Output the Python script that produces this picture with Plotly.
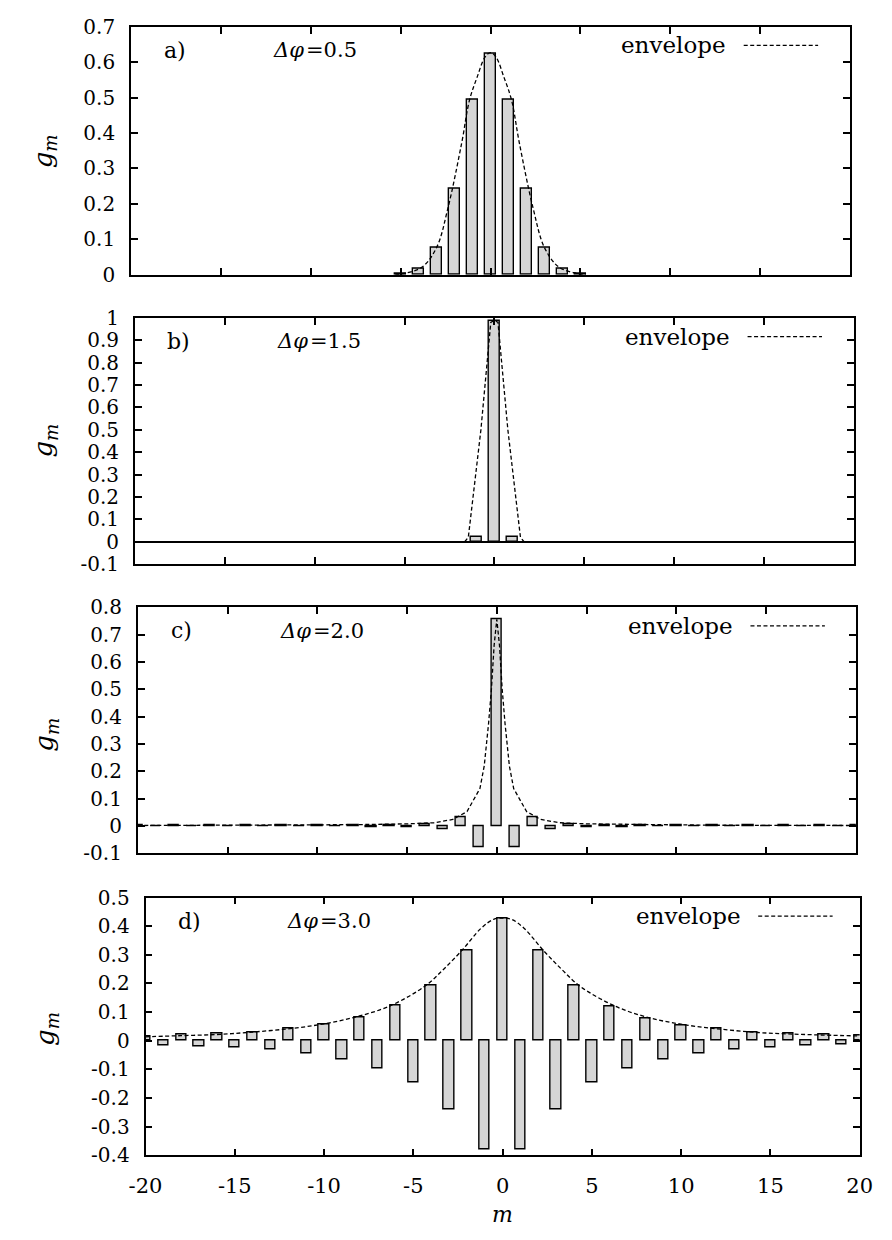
import plotly.graph_objects as go

# ---------------- data ----------------
m_a = [-5, -4, -3, -2, -1, 0, 1, 2, 3, 4, 5]
g_a = [0.003, 0.017, 0.076, 0.242, 0.495, 0.625, 0.495, 0.242, 0.076, 0.017, 0.003]
env_a_m = [-5.3, -4.8, -3.8, -3.0, -2.37, -1.6, -1.17, -0.75, -0.3, 0, 0.3, 0.75, 1.17, 1.6, 2.37, 3.0, 3.8, 4.8, 5.3]
env_a_g = [0.0, 0.004, 0.022, 0.077, 0.188, 0.373, 0.493, 0.557, 0.615, 0.627, 0.615, 0.557, 0.493, 0.373, 0.188, 0.077, 0.022, 0.004, 0.0]

m_b = [-1, 0, 1]
g_b = [0.022, 0.985, 0.022]
env_b_m = [-1.65, -1.45, -1.1, -0.75, -0.2, 0, 0.2, 0.75, 1.1, 1.45, 1.65]
env_b_g = [0.0, 0.02, 0.26, 0.5, 0.98, 0.99, 0.98, 0.5, 0.26, 0.02, 0.0]

m_c = list(range(-20, 21))
g_c = [0.002, -0.002, 0.002, -0.002, 0.002, -0.002, 0.002, -0.002, 0.002, -0.002,
       0.002, -0.002, 0.003, -0.003, 0.004, -0.004, 0.006, -0.010, 0.032, -0.077,
       0.756,
       -0.077, 0.032, -0.010, 0.006, -0.004, 0.004, -0.003, 0.003, -0.002, 0.002,
       -0.002, 0.002, -0.002, 0.002, -0.002, 0.002, -0.002, 0.002, -0.002, 0.002]
env_c_m = [-20, -12, -8, -5, -3.5, -2.45, -1.66, -0.94, -0.7, -0.46, -0.3, -0.15, 0,
           0.15, 0.3, 0.46, 0.7, 0.94, 1.66, 2.45, 3.5, 5, 8, 12, 20]
env_c_g = [0.002, 0.003, 0.005, 0.008, 0.012, 0.024, 0.053, 0.137, 0.22, 0.374, 0.5, 0.66, 0.756,
           0.66, 0.5, 0.374, 0.22, 0.137, 0.053, 0.024, 0.012, 0.008, 0.005, 0.003, 0.002]

m_d = list(range(-20, 21))
g_d = [0.016, -0.016, 0.022, -0.020, 0.024, -0.024, 0.030, -0.030, 0.042, -0.043,
       0.056, -0.065, 0.082, -0.095, 0.122, -0.145, 0.193, -0.241, 0.314, -0.381,
       0.425,
       -0.381, 0.314, -0.241, 0.192, -0.145, 0.121, -0.095, 0.079, -0.065, 0.055,
       -0.043, 0.042, -0.030, 0.030, -0.023, 0.025, -0.017, 0.023, -0.013, 0.018]
env_d_m = [-20, -18, -16, -14.3, -12.3, -10.3, -8.3, -6.3, -4.3, -3.3, -2.3, -1.2, -0.5, 0,
           0.5, 1.2, 2.3, 3.3, 4.3, 6.3, 8.3, 10.3, 12.3, 14.3, 16, 18, 20]
env_d_g = [0.014, 0.018, 0.022, 0.029, 0.040, 0.056, 0.082, 0.122, 0.193, 0.25, 0.314, 0.393, 0.424, 0.428,
           0.424, 0.393, 0.314, 0.25, 0.192, 0.121, 0.079, 0.055, 0.040, 0.029, 0.024, 0.020, 0.017]

panel_labels = ["a)", "b)", "c)", "d)"]
dphi_symbol = "Δφ"
dphi_values = ["=0.5", "=1.5", "=2.0", "=3.0"]
legend_text = "envelope"
y_title = "g<sub>m</sub>"
x_title = "m"

x_ticks = [-20, -15, -10, -5, 0, 5, 10, 15, 20]
x_ticktext = ["-20", "-15", "-10", "-5", "0", "5", "10", "15", "20"]
y_ticks_a = [0, 0.1, 0.2, 0.3, 0.4, 0.5, 0.6, 0.7]
y_text_a = ["0", "0.1", "0.2", "0.3", "0.4", "0.5", "0.6", "0.7"]
y_ticks_b = [-0.1, 0, 0.1, 0.2, 0.3, 0.4, 0.5, 0.6, 0.7, 0.8, 0.9, 1]
y_text_b = ["-0.1", "0", "0.1", "0.2", "0.3", "0.4", "0.5", "0.6", "0.7", "0.8", "0.9", "1"]
y_ticks_c = [-0.1, 0, 0.1, 0.2, 0.3, 0.4, 0.5, 0.6, 0.7, 0.8]
y_text_c = ["-0.1", "0", "0.1", "0.2", "0.3", "0.4", "0.5", "0.6", "0.7", "0.8"]
y_ticks_d = [-0.4, -0.3, -0.2, -0.1, 0, 0.1, 0.2, 0.3, 0.4, 0.5]
y_text_d = ["-0.4", "-0.3", "-0.2", "-0.1", "0", "0.1", "0.2", "0.3", "0.4", "0.5"]

# ---------------- layout geometry ----------------
W, H = 892, 1240
# pixel boxes (left, right, top, bottom) of each panel
boxes = [(118, 862, 15, 268), (122, 866, 312, 563), (125, 868, 607, 858), (133, 872, 903, 1166)]
yranges = [[0, 0.7], [-0.1, 1.0], [-0.1, 0.8], [-0.4, 0.5]]
yticks = [(y_ticks_a, y_text_a), (y_ticks_b, y_text_b), (y_ticks_c, y_text_c), (y_ticks_d, y_text_d)]
ytitle_pos = [(28, 142), (29, 437), (30, 737), (31, 1037)]

bar_sets = [(m_a, g_a), (m_b, g_b), (m_c, g_c), (m_d, g_d)]
env_sets = [(env_a_m, env_a_g, "spline"), (env_b_m, env_b_g, "linear"),
            (env_c_m, env_c_g, "linear"), (env_d_m, env_d_g, "spline")]

SERIF = "DejaVu Serif"
BAR_FILL = "#d6d6d6"
DASH = "4px,2.5px"

fig = go.Figure()
layout = dict(width=W, height=H, margin=dict(l=0, r=0, t=0, b=0),
              paper_bgcolor="white", plot_bgcolor="white", showlegend=False,
              bargap=0, annotations=[], shapes=[])

for i in range(4):
    k = "" if i == 0 else str(i + 1)
    xa, ya = "x" + k, "y" + k
    l, r, t, b = boxes[i]
    mm, gg = bar_sets[i]
    fig.add_trace(go.Bar(x=mm, y=gg, width=0.58, xaxis=xa, yaxis=ya,
                         marker=dict(color=BAR_FILL, line=dict(color="black", width=1.4))))
    em, eg, shp = env_sets[i]
    fig.add_trace(go.Scatter(x=em, y=eg, mode="lines", xaxis=xa, yaxis=ya,
                             line=dict(color="black", width=1.3, dash=DASH, shape=shp)))

    common = dict(showline=True, linecolor="black", linewidth=1.7, mirror="ticks",
                  ticks="inside", ticklen=7, tickwidth=1.5, tickcolor="black",
                  showgrid=False, zeroline=False)
    layout["xaxis" + k] = dict(common, domain=[l / W, r / W], range=[-20, 20],
                               anchor=ya, tickmode="array", tickvals=x_ticks,
                               ticktext=x_ticktext, showticklabels=(i == 3),
                               ticklabelstandoff=11,
                               tickfont=dict(family=SERIF, size=21, color="black"))
    tv, tt = yticks[i]
    layout["yaxis" + k] = dict(common, domain=[1 - b / H, 1 - t / H], range=yranges[i],
                               anchor=xa, tickmode="array", tickvals=tv, ticktext=tt,
                               ticklabelstandoff=10,
                               tickfont=dict(family=SERIF, size=20, color="black"),
                               zeroline=(i == 1), zerolinecolor="black", zerolinewidth=1.6)

    h = b - t
    w = r - l
    dom_x = xa + " domain"
    dom_y = ya + " domain"
    layout["annotations"].append(dict(text=panel_labels[i], xref=dom_x, yref=dom_y,
                                      x=45 / w, y=1 - 24 / h, showarrow=False,
                                      xanchor="center", yanchor="middle",
                                      font=dict(family=SERIF, size=22, color="black")))
    layout["annotations"].append(dict(text=dphi_symbol, xref=dom_x, yref=dom_y,
                                      x=180 / w, y=1 - 24 / h, showarrow=False,
                                      xanchor="right", yanchor="middle", xshift=1,
                                      font=dict(family=SERIF, size=21, color="black", style="italic")))
    layout["annotations"].append(dict(text=dphi_values[i], xref=dom_x, yref=dom_y,
                                      x=180 / w, y=1 - 24 / h, showarrow=False,
                                      xanchor="left", yanchor="middle", xshift=-1,
                                      font=dict(family=SERIF, size=21, color="black")))
    layout["annotations"].append(dict(text=legend_text, xref=dom_x, yref=dom_y,
                                      x=618 / w, y=1 - 19 / h, showarrow=False,
                                      xanchor="right", yanchor="middle",
                                      font=dict(family=SERIF, size=23, color="black")))
    layout["shapes"].append(dict(type="line", xref=dom_x, yref=dom_y,
                                 x0=634 / w, x1=711 / w,
                                 y0=1 - 19 / h, y1=1 - 19 / h,
                                 line=dict(color="black", width=1.3, dash=DASH)))
    tx, ty = ytitle_pos[i]
    layout["annotations"].append(dict(text=y_title, xref="paper", yref="paper",
                                      x=tx / W, y=1 - ty / H, showarrow=False, textangle=-90,
                                      xanchor="center", yanchor="middle",
                                      font=dict(family=SERIF, size=26, color="black", style="italic")))

layout["annotations"].append(dict(text=x_title, xref="x4 domain", yref="paper",
                                  x=0.5, y=1 - 1226 / H, showarrow=False,
                                  xanchor="center", yanchor="middle",
                                  font=dict(family=SERIF, size=22, color="black", style="italic")))

fig.update_layout(**layout)
fig.write_html("out.html")
